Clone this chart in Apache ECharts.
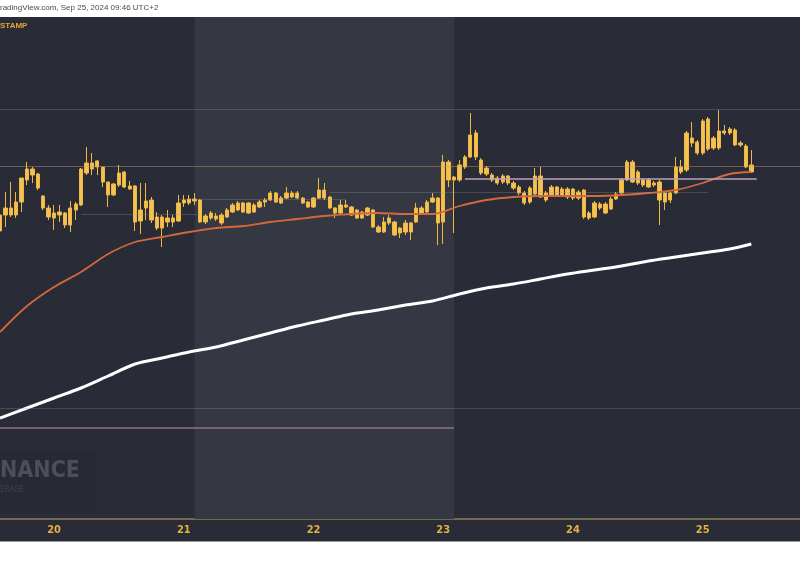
<!DOCTYPE html>
<html>
<head>
<meta charset="utf-8">
<script src="https://cdn.jsdelivr.net/npm/echarts@6/dist/echarts.min.js"></script>
<style>
html,body{margin:0;padding:0;background:#fff;}
#c{width:800px;height:566px;}
</style>
</head>
<body>
<div id="c"></div>
<script>
// ---- data (hourly BTC/USD candles, Sep 19 14:00 -> Sep 25) ----
const startTime = Date.UTC(2024, 8, 19, 14);
const slotCount = 149;
const headerText = 'radingView.com, Sep 25, 2024 09:46 UTC+2';
const symbolText = 'STAMP';

// [open, close, low, high]
const candles = [
[63590,63750,63580,63910],[63820,63750,63630,63980],[63750,63820,63730,64080],[63750,63880,63720,63980],
[63880,64120,63780,64120],[64100,64210,64050,64280],[64210,64150,64070,64230],[64160,64020,64000,64170],
[63940,63820,63800,63950],[63820,63730,63700,63850],[63770,63720,63600,63850],[63750,63780,63680,63850],
[63770,63650,63620,63780],[63650,63820,63580,63890],[63800,63860,63700,63880],[63850,64210,63840,64220],
[64170,64270,64150,64430],[64270,64210,64150,64370],[64230,64290,64150,64300],[64230,64080,64030,64230],
[64080,63950,63830,64080],[63950,64060,63940,64070],[64050,64170,64030,64250],[64180,64030,64020,64190],
[64040,64010,64000,64090],[64040,63680,63590,64050],[63690,63800,63560,64070],[63820,63890,63700,64070],
[63900,63700,63670,63930],[63730,63620,63600,63780],[63620,63730,63430,63750],[63720,63680,63630,63800],
[63680,63720,63630,63750],[63690,63870,63680,63950],[63870,63900,63830,63950],[63910,63870,63850,63950],
[63890,63910,63850,63970],[63900,63680,63670,63910],[63680,63740,63660,63760],[63720,63770,63700,63790],
[63740,63710,63690,63770],[63670,63750,63650,63770],[63730,63800,63720,63820],[63780,63850,63770,63870],
[63800,63870,63790,63890],[63870,63780,63770,63880],[63770,63870,63760,63880],[63850,63780,63770,63870],
[63830,63880,63820,63900],[63880,63900,63830,63920],[63900,63970,63890,63990],[63970,63880,63870,63980],
[63870,63920,63860,63940],[63920,63970,63910,64030],[63970,63930,63920,63990],[63920,63970,63910,63990],
[63920,63870,63860,63930],[63880,63830,63820,63890],[63830,63920,63820,63930],[63920,64000,63910,64120],
[64000,63920,63900,64070],[63930,63820,63810,63940],[63820,63770,63720,63830],[63770,63850,63760,63900],
[63850,63830,63820,63900],[63830,63750,63740,63840],[63800,63720,63710,63810],[63720,63780,63710,63790],
[63750,63820,63740,63830],[63800,63630,63620,63810],[63630,63580,63570,63650],[63580,63680,63570,63730],
[63670,63720,63650,63750],[63680,63550,63540,63690],[63570,63620,63520,63630],[63580,63670,63550,63700],
[63670,63580,63500,63680],[63680,63820,63670,63870],[63820,63760,63750,63840],[63780,63880,63770,63900],
[63880,63920,63870,63970],[63920,63670,63450,63930],[63680,64280,63460,64350],[64280,64100,64030,64300],
[64100,64130,63570,64140],[64100,64250,64080,64300],[64230,64330,64210,64350],[64330,64550,64320,64770],
[64570,64330,64300,64600],[64300,64170,64150,64320],[64220,64160,64140,64240],[64150,64100,64080,64170],
[64120,64070,64050,64140],[64080,64140,64060,64160],[64140,64070,64050,64150],[64070,64020,64000,64090],
[64030,63970,63950,64050],[63970,63870,63850,63990],[63880,64020,63860,64040],[63960,64140,63940,64220],
[64140,63930,63920,64230],[63970,63900,63880,63990],[63950,64030,63930,64050],[64030,63950,63940,64040],
[63950,64010,63930,64030],[64010,63930,63910,64030],[63920,64010,63900,64020],[63980,63920,63900,64000],
[64000,63730,63710,64010],[63770,63720,63700,63790],[63730,63870,63720,63890],[63860,63820,63800,63880],
[63860,63770,63760,63880],[63810,63910,63800,63930],[63910,63960,63900,63980],[63970,64100,63960,64120],
[64100,64280,64090,64300],[64280,64080,64070,64300],[64070,64180,64050,64200],[64100,64050,64030,64120],
[64030,64100,64020,64120],[64070,64050,64030,64090],[64080,63900,63650,64100],[63880,63970,63800,63990],
[63970,63900,63870,63980],[63970,64230,63960,64330],[64230,64180,64160,64300],[64200,64570,64180,64590],
[64520,64470,64430,64680],[64480,64370,64350,64500],[64370,64690,64350,64710],[64710,64410,64390,64730],
[64420,64520,64400,64540],[64420,64590,64400,64800],[64590,64570,64550,64650],[64570,64610,64550,64630],
[64600,64450,64440,64620],[64470,64450,64430,64490],[64440,64230,64220,64460],[64250,64180,64170,64400]
];

// moving averages, read at these candle indices
const maIdx = [0,5,10,15,20,25,30,35,40,45,50,55,60,65,70,75,80,85,90,95,100,105,110,115,120,125,130,135,139];
const ma50 = [62580,62840,63030,63180,63360,63480,63530,63580,63620,63640,63680,63710,63740,63760,63770,63760,63760,63840,63900,63930,63940,63940,63940,63950,63970,64000,64070,64160,64180];
const ma200 = [61720,61820,61920,62020,62140,62260,62320,62380,62430,62500,62570,62640,62700,62760,62800,62850,62890,62960,63020,63060,63110,63160,63200,63240,63290,63330,63370,63410,63460];

// horizontal levels
const fullLevels = [64810, 61820];
const lastPrice = 64240;
const pinkLevel = {price: 61620, from: 0, to: 84};
const purpleLevel = {price: 64110, from: 86, to: 140};
const greyLevels = [
  {price: 63980, from: 61, to: 131},
  {price: 63910, from: 33, to: 64},
  {price: 63760, from: 15, to: 37}
];
const weekendBand = {from: 36, to: 84};

// ---- build ----
const categories = [];
for (let i = 0; i < slotCount; i++) {
  const d = new Date(startTime + i * 3600000);
  const h = d.getUTCHours();
  categories.push(d.getUTCDate() + ' ' + (h < 10 ? '0' + h : h) + ':00');
}
const pair = (vals) => maIdx.map((ix, k) => [ix, vals[k]]);
const seg = (lv, color, width) => [
  {coord: [lv.from, lv.price], lineStyle: {color: color, width: width, type: 'solid'}},
  {coord: [lv.to, lv.price]}
];

const markLines = [];
fullLevels.forEach(p => markLines.push({yAxis: p, lineStyle: {color: 'rgba(150,152,165,0.30)', width: 1, type: 'solid'}}));
markLines.push({yAxis: lastPrice, lineStyle: {color: 'rgba(200,150,110,0.45)', width: 1, type: 'solid'}});
markLines.push(seg(pinkLevel, 'rgba(160,125,140,0.85)', 1.5));
markLines.push(seg(purpleLevel, 'rgba(185,160,190,0.75)', 2));
greyLevels.forEach(lv => markLines.push(seg(lv, 'rgba(150,152,165,0.28)', 1)));

const chart = echarts.init(document.getElementById('c'), null, {renderer: 'canvas'});
const narrow = '"Liberation Sans Narrow", "DejaVu Sans Condensed", sans-serif';
chart.setOption({
  animation: false,
  backgroundColor: '#292c37',
  grid: {left: 0, right: 0, top: 17, bottom: 47, containLabel: false},
  xAxis: {
    type: 'category',
    data: categories,
    boundaryGap: false,
    axisLine: {show: true, lineStyle: {color: '#8d7f57', width: 1.5}},
    axisTick: {show: false},
    splitLine: {show: false},
    axisLabel: {
      interval: (idx, val) => val.endsWith(' 00:00'),
      formatter: (val) => val.split(' ')[0],
      color: '#e3b13e',
      fontWeight: 'bold',
      fontSize: 11,
      fontFamily: narrow,
      margin: 6
    }
  },
  yAxis: {type: 'value', min: 60710, max: 65730, show: false, splitLine: {show: false}},
  series: [
    {
      name: 'levels', type: 'line', data: [], z: 1, silent: true,
      markArea: {silent: true, itemStyle: {color: '#353843'}, data: [[{xAxis: weekendBand.from}, {xAxis: weekendBand.to}]]},
      markLine: {silent: true, symbol: ['none', 'none'], label: {show: false}, data: markLines}
    },
    {
      name: 'MA200', type: 'line', data: pair(ma200), z: 2, smooth: 0.3, showSymbol: false, silent: true,
      lineStyle: {color: '#ffffff', width: 3}
    },
    {
      name: 'BTCUSD', type: 'candlestick', data: candles, z: 3, barWidth: 3.8,
      itemStyle: {color: '#f5c150', color0: '#f5c150', borderColor: '#eeb744', borderColor0: '#eeb744', borderWidth: 1}
    },
    {
      name: 'MA50', type: 'line', data: pair(ma50), z: 4, smooth: 0.3, showSymbol: false, silent: true,
      lineStyle: {color: '#d2693b', width: 1.8}
    }
  ],
  graphic: [
    {type: 'rect', left: 0, top: 452, shape: {width: 97, height: 60}, style: {fill: '#272a35'}, z: 0, silent: true},
    {type: 'text', left: 0, top: 460, style: {text: 'NANCE', fill: '#4b4e5b', font: 'bold 23px ' + narrow}, z: 1, silent: true},
    {type: 'text', left: 0, top: 486, style: {text: 'ERAGE', fill: '#3f4250', font: '8px ' + narrow}, z: 1, silent: true},
    {type: 'text', left: 0, top: 22, style: {text: symbolText, fill: '#e3a535', font: 'bold 8px "Liberation Sans", sans-serif'}, z: 50, silent: true},
    {type: 'rect', left: 0, top: 0, shape: {width: 800, height: 17}, style: {fill: '#ffffff'}, z: 100, silent: true},
    {type: 'text', left: 0, top: 4, style: {text: headerText, fill: '#4a4a4a', font: '8px "Liberation Sans", sans-serif'}, z: 101, silent: true},
    {type: 'rect', left: 0, top: 542, shape: {width: 800, height: 24}, style: {fill: '#ffffff'}, z: 100, silent: true},
    {type: 'rect', left: 0, top: 541, shape: {width: 800, height: 1}, style: {fill: '#9a9a9a'}, z: 101, silent: true}
  ]
});
</script>
</body>
</html>
